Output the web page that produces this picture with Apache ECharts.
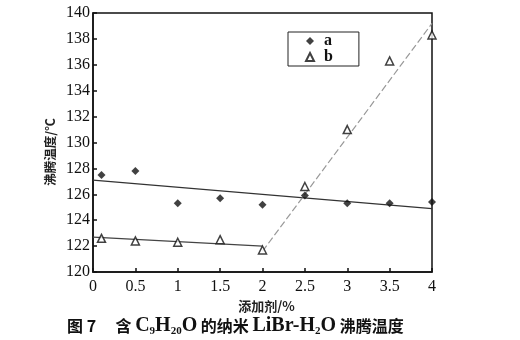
<!DOCTYPE html>
<html><head><meta charset="utf-8">
<script src="https://cdn.jsdelivr.net/npm/echarts@6/dist/echarts.min.js"></script>
<style>html,body{margin:0;padding:0;background:#fff}#c{width:520px;height:340px}</style>
</head><body><div id="c"></div>
<script>
// data
const xA = [0.1, 0.5, 1, 1.5, 2, 2.5, 3, 3.5, 4];
const valsA = [127.5, 127.8, 125.3, 125.7, 125.2, 125.9, 125.3, 125.3, 125.4];
const xB = [0.1, 0.5, 1, 1.5, 2, 2.5, 3, 3.5, 4];
const valsB = [122.6, 122.4, 122.3, 122.5, 121.7, 126.6, 131.0, 136.3, 138.3];
const fitA = [[0, 127.1], [4, 124.9]];
const fitB1 = [[0, 122.7], [2, 122.0]];
const fitB2 = [[2, 121.6], [4, 139.2]];
const xTicks = ['0', '0.5', '1', '1.5', '2', '2.5', '3', '3.5', '4'];
const yTicks = ['120','122','124','126','128','130','132','134','136','138','140'];

const serif = 'Liberation Serif';
const cjk = 'Noto Sans CJK SC';
const chart = echarts.init(document.getElementById('c'));
chart.setOption({
  animation: false,
  backgroundColor: '#fff',
  grid: { left: 93, top: 13, right: 88, bottom: 68, show: true, borderColor: '#111', borderWidth: 1.5, backgroundColor: 'transparent' },
  legend: {
    left: 288, top: 32, orient: 'vertical', width: 70,
    borderColor: '#222', borderWidth: 1, padding: [1, 26, 1, 17], itemGap: 0,
    itemWidth: 8, itemHeight: 8,
    textStyle: { fontFamily: serif, fontSize: 16, fontWeight: 'bold', color: '#111', padding: [0, 0, 0, 5], lineHeight: 15 },
    data: ['a', 'b']
  },
  xAxis: {
    type: 'value', min: 0, max: 4, interval: 0.5,
    name: '添加剂/%', nameLocation: 'middle', nameGap: 23,
    nameTextStyle: { fontFamily: cjk, fontSize: 13, fontWeight: 'bold', color: '#222', padding: [0, 0, 0, 8] },
    axisLine: { show: true, lineStyle: { color: '#111', width: 1.5 } },
    axisTick: { show: true, inside: true, length: 4, lineStyle: { color: '#111', width: 1.5 } },
    axisLabel: { fontFamily: serif, fontSize: 16, color: '#111', margin: 7,
      formatter: v => xTicks[Math.round(v / 0.5)] },
    splitLine: { show: false }
  },
  yAxis: {
    type: 'value', min: 120, max: 140, interval: 2,
    axisLine: { show: true, lineStyle: { color: '#111', width: 1.5 } },
    axisTick: { show: true, inside: true, length: 4, lineStyle: { color: '#111', width: 1.5 } },
    axisLabel: { fontFamily: serif, fontSize: 16, color: '#111', margin: 3,
      formatter: v => yTicks[Math.round((v - 120) / 2)] },
    splitLine: { show: false }
  },
  series: [
    { name: 'a', type: 'scatter', symbol: 'diamond', symbolSize: 8,
      itemStyle: { color: '#111' }, data: xA.map((x, i) => [x, valsA[i]]), z: 5 },
    { name: 'b', type: 'scatter', symbol: 'triangle', symbolSize: 8,
      itemStyle: { color: '#fff', borderColor: '#111', borderWidth: 1.5 }, data: xB.map((x, i) => [x, valsB[i]]), z: 5 },
    { name: 'fitA', type: 'line', data: fitA, showSymbol: false, symbol: 'none',
      lineStyle: { color: '#333', width: 1.3 } },
    { name: 'fitB1', type: 'line', data: fitB1, showSymbol: false, symbol: 'none',
      lineStyle: { color: '#444', width: 1.3 } },
    { name: 'fitB2', type: 'line', data: fitB2, showSymbol: false, symbol: 'none',
      lineStyle: { color: '#999', width: 1.2, type: [7, 3] } }
  ],
  graphic: [{
    type: 'text', x: 50, y: 152, rotation: Math.PI / 2,
    style: { text: '沸腾温度/℃', fontFamily: cjk, fontSize: 12.5, fontWeight: 'bold', fill: '#222',
      align: 'center', verticalAlign: 'middle' }
  }, {
    type: 'text', left: 67, top: 316,
    style: {
      text: '{b|图 7}{s|     }{b|含 }{l|C}{sub|9}{l|H}{sub|20}{l|O}{b| 的纳米 }{l|LiBr-H}{sub|2}{l|O}{b| 沸腾温度}',
      rich: {
        b: { fontFamily: cjk, fontSize: 16, fontWeight: 'bold', fill: '#111' },
        s: { fontSize: 14 },
        l: { fontFamily: serif, fontSize: 20, fontWeight: 'bold', fill: '#111' },
        sub: { fontFamily: serif, fontSize: 11, fontWeight: 'bold', fill: '#111', verticalAlign: 'bottom', padding: [10, 0, 0, 0] }
      }
    }
  }]
});
</script></body></html>
